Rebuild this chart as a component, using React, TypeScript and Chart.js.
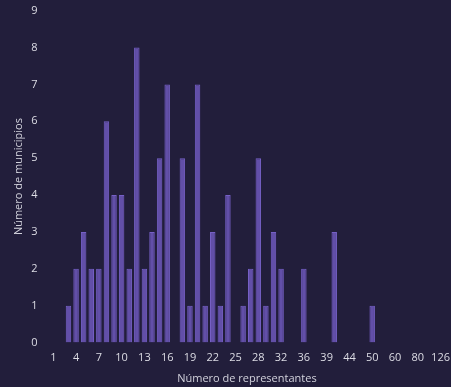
import React, { useEffect, useRef } from "react";
import { Chart, registerables } from "chart.js";

Chart.register(...registerables);

const categories: string[] = [
  "1", "2", "3", "4", "5", "6", "7", "8", "9", "10",
  "11", "12", "13", "14", "15", "16", "17", "18", "19", "20",
  "21", "22", "23", "24", "25", "26", "27", "28", "29", "30",
  "32", "33", "34", "36", "37", "38", "39", "40", "42", "44",
  "45", "48", "50", "52", "55", "60", "65", "70", "80", "90",
  "100", "126",
];

const municipios: number[] = [
  0, 0, 1, 2, 3, 2, 2, 6, 4, 4,
  2, 8, 2, 3, 5, 7, 0, 5, 1, 7,
  1, 3, 1, 4, 0, 1, 2, 5, 1, 3,
  2, 0, 0, 2, 0, 0, 0, 3, 0, 0,
  0, 0, 1, 0, 0, 0, 0, 0, 0, 0,
  0, 0,
];

const yTicks: number[] = [0, 1, 2, 3, 4, 5, 6, 7, 8, 9];

const BG = "#221e3b";
const FONT = "'Open Sans', sans-serif";

export default function App() {
  const ref = useRef<HTMLCanvasElement | null>(null);

  useEffect(() => {
    document.body.style.margin = "0";
    document.body.style.background = BG;
    const ctx = ref.current!.getContext("2d")!;
    const chart = new Chart(ctx, {
      type: "bar",
      data: {
        labels: categories,
        datasets: [
          {
            label: "Municipios",
            data: municipios,
            backgroundColor: "rgba(104, 84, 178, 0.92)",
            borderColor: "#7660c6",
            borderWidth: 1,
          },
        ],
      },
      options: {
        animation: false,
        responsive: false,
        maintainAspectRatio: false,
        layout: { padding: { left: 12, right: 3, top: -5, bottom: 2 } },
        plugins: {
          legend: { display: false },
          tooltip: { enabled: false },
        },
        scales: {
          x: {
            grid: { display: false },
            border: { display: false },
            ticks: {
              autoSkip: false,
              maxRotation: 0,
              minRotation: 0,
              padding: 1,
              color: "#dcdce4",
              font: { family: FONT, size: 11 },
              callback: (_v: any, i: number) => (i % 3 === 0 ? categories[i] : ""),
            },
            title: {
              display: true,
              text: "Número de representantes",
              color: "#d2d2dc",
              font: { family: FONT, size: 11 },
              padding: { top: 6, bottom: 0 },
            },
          },
          y: {
            min: yTicks[0],
            max: yTicks[yTicks.length - 1],
            grid: { display: false },
            border: { display: false },
            afterBuildTicks: (axis: any) => {
              axis.ticks = yTicks.map((v) => ({ value: v }));
            },
            ticks: {
              color: "#dcdce4",
              font: { family: FONT, size: 11 },
              padding: 4,
            },
            title: {
              display: true,
              text: "Número de municipios",
              color: "#d2d2dc",
              font: { family: FONT, size: 11 },
              padding: { top: 0, bottom: 2 },
            },
          },
        },
      },
    });
    return () => chart.destroy();
  }, []);

  return (
    <div style={{ position: "fixed", left: 0, top: 0, width: 451, height: 387, background: BG }}>
      <canvas ref={ref} width={451} height={387} style={{ display: "block" }} />
    </div>
  );
}
